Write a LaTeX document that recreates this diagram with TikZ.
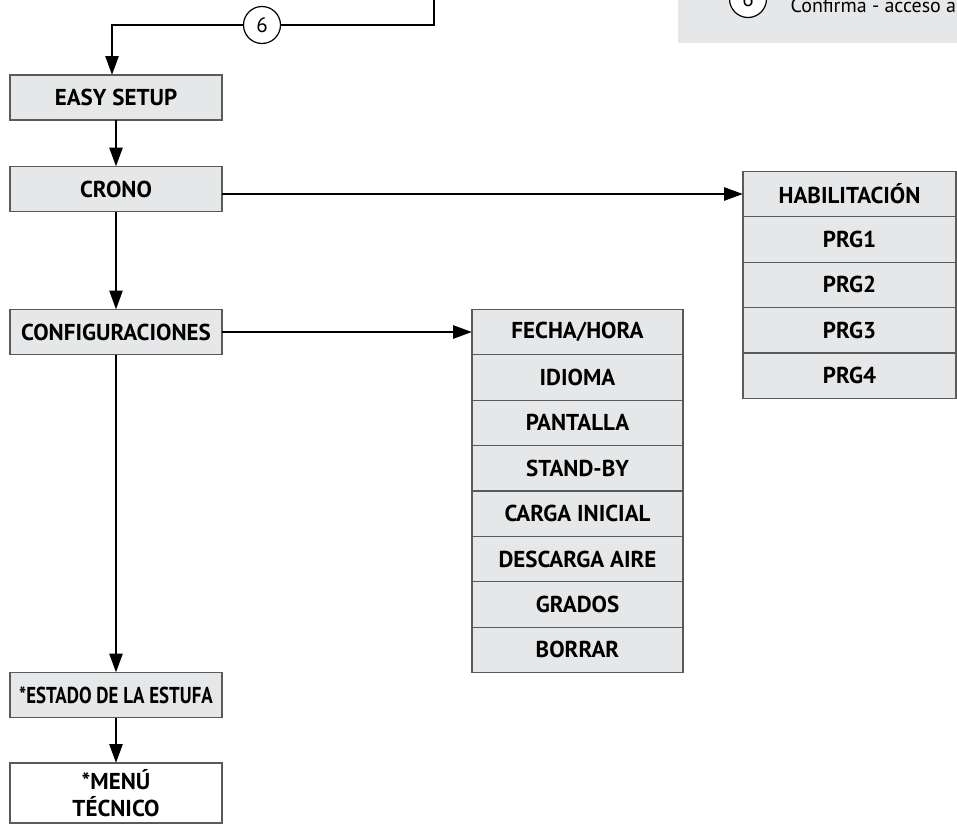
\documentclass[tikz,border=0pt]{standalone}
\usepackage{fontspec}
\usepackage{graphicx}
\setmainfont{PT Sans}
\usetikzlibrary{arrows.meta,positioning}
\definecolor{menugray}{HTML}{E6E7E8}
\definecolor{framegray}{HTML}{5A5A5A}
\begin{document}
\begin{tikzpicture}[x=1pt,y=-1pt,
	menu/.style={draw=framegray, line width=1.2pt, fill=menugray, minimum width=212pt,
		minimum height=45pt, inner sep=0pt, outer sep=0pt, font=\fontsize{23}{27}\selectfont\bfseries},
	item/.style={menu, minimum height=45.4pt},
	wire/.style={line width=2.6pt},
	flow/.style={wire, -{Triangle[length=19pt,width=13pt]}},
	num/.style={circle, draw, line width=1.2pt, fill=white, minimum size=37pt, inner sep=0pt,
		font=\fontsize{21}{25}\selectfont}]
	  \clip (0,0) rectangle (957,828);
	  % legend, cut by the page edge
	  \fill[menugray] (678,-5) rectangle (962,43);
	  \node[num] (legnum) at (748,-1) {6};
	  \node[anchor=base west, font=\fontsize{20}{24}\selectfont] (legtext) at (787,12) {Confirma - acceso a};
	  
	  \node[menu] (easy) at (116,97.5) {EASY SETUP};
	  \node[menu] (crono) at (116,189) {CRONO};
	  \node[menu] (config) at (116,332) {CONFIGURACIONES};
	  \node[menu] (estado) at (116,695) {\scalebox{0.82}[1]{*ESTADO DE LA ESTUFA}};
	  \node[menu, fill=white, minimum height=60pt, align=center] (menu) at (116,793) {*MENÚ\\TÉCNICO};
	  
	  \node[item, minimum width=213pt] (hab) at (849.5,194) {HABILITACIÓN};
	  \node[item, minimum width=213pt, below=0pt of hab] (prg1) {PRG1};
	  \node[item, minimum width=213pt, below=0pt of prg1] (prg2) {PRG2};
	  \node[item, minimum width=213pt, below=0pt of prg2] (prg3) {PRG3};
	  \node[item, minimum width=213pt, below=0pt of prg3] (prg4) {PRG4};
	  
	  \node[item, minimum width=211pt] (fecha) at (577.5,332) {FECHA/HORA};
	  \node[item, minimum width=211pt, below=0pt of fecha] (idioma) {IDIOMA};
	  \node[item, minimum width=211pt, below=0pt of idioma] (pantalla) {PANTALLA};
	  \node[item, minimum width=211pt, below=0pt of pantalla] (standby) {STAND-BY};
	  \node[item, minimum width=211pt, below=0pt of standby] (carga) {CARGA INICIAL};
	  \node[item, minimum width=211pt, below=0pt of carga] (descarga) {DESCARGA AIRE};
	  \node[item, minimum width=211pt, below=0pt of descarga] (grados) {GRADOS};
	  \node[item, minimum width=211pt, below=0pt of grados] (borrar) {BORRAR};
	  
	  \coordinate (topin) at (434,-3);
	  \node[num] (step6) at (262,25) {6};
	  \draw[wire] (topin) |- (step6);
	  \draw[flow] (step6) -| ([xshift=-4pt]easy.north);
	  \draw[flow] (easy) -- (crono);
	  \draw[flow] (crono) -- (config);
	  \draw[flow] (config) -- (estado);
	  \draw[flow] (estado) -- (menu);
	  \draw[flow] (crono.east |- hab) -- (hab);
	  \draw[flow] (config) -- (fecha);
	\end{tikzpicture}
\end{document}
